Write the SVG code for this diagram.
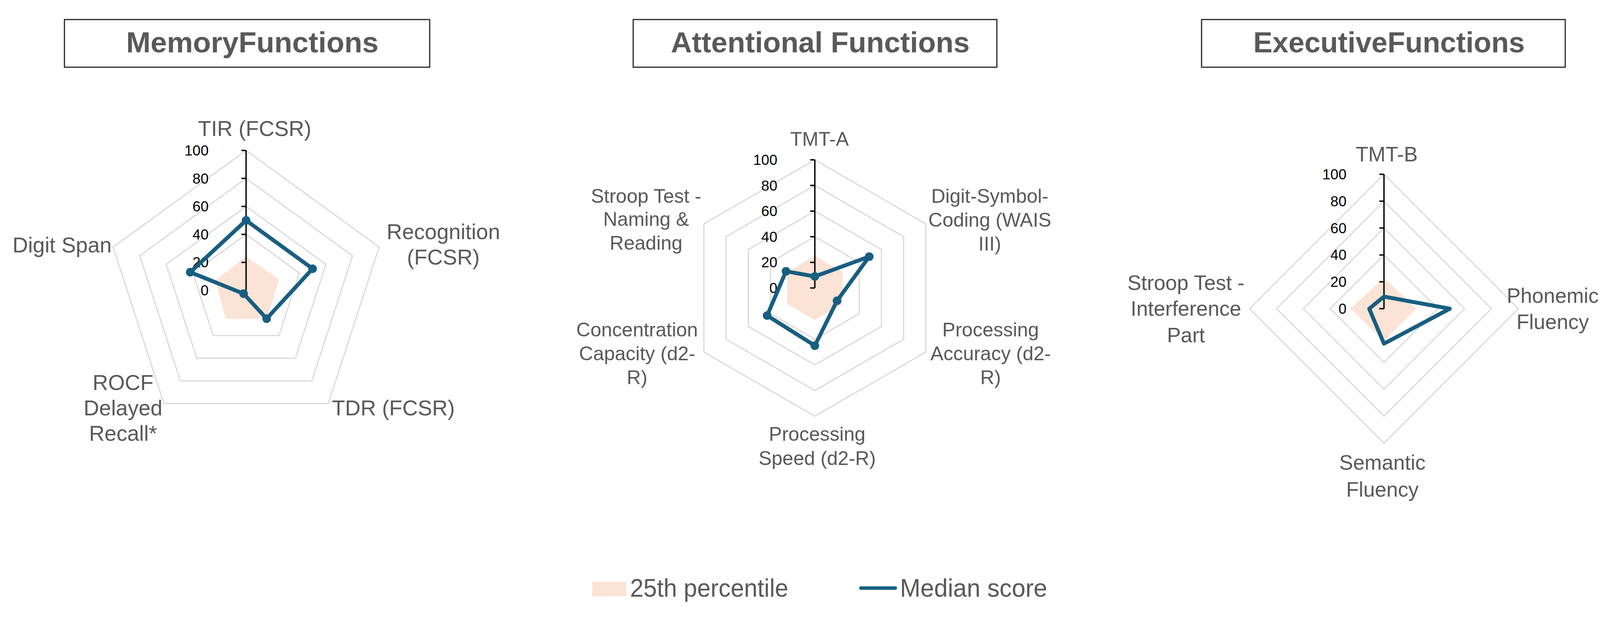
<svg xmlns="http://www.w3.org/2000/svg" width="4164" height="1579" viewBox="0 0 4164 1579">
<style>
.bg{fill:#ffffff}
.box{fill:#ffffff;stroke:#262626;stroke-width:3}
.title{font-family:"Liberation Sans",Arial,sans-serif;font-weight:bold;font-size:74px;fill:#595959;text-anchor:middle}
.grid{fill:none;stroke:#d9d9d9;stroke-width:3;stroke-linejoin:miter}
.p25{fill:#fbe3d5;stroke:none}
.med{fill:none;stroke:#185e81;stroke-width:10;stroke-linejoin:round}
.dot{fill:#185e81}
.axis{stroke:#000000;stroke-width:3.5;fill:none}
.tick{font-family:"Liberation Sans",Arial,sans-serif;font-size:37px;fill:#000000;text-anchor:end}
.lab{font-family:"Liberation Sans",Arial,sans-serif;font-size:55px;fill:#595959;text-anchor:middle}
.lab2{font-family:"Liberation Sans",Arial,sans-serif;font-size:50px;fill:#595959;text-anchor:middle}
.lab3{font-family:"Liberation Sans",Arial,sans-serif;font-size:53px;fill:#595959;text-anchor:middle}
.leg{font-family:"Liberation Sans",Arial,sans-serif;font-size:65px;fill:#595959}
</style>
<rect class="bg" x="0" y="0" width="4164" height="1579"/>

<g id="memory">
  <rect class="box" x="165" y="50" width="935" height="122"/>
  <text class="title" x="646" y="134" textLength="646" lengthAdjust="spacingAndGlyphs">MemoryFunctions</text>
  <g class="gridlines">
    <polygon class="grid" points="630,385 970.48,632.37 840.43,1032.63 419.57,1032.63 289.52,632.37"/>
    <polygon class="grid" points="630,456.6 902.38,654.5 798.34,974.7 461.66,974.7 357.62,654.5"/>
    <polygon class="grid" points="630,528.2 834.29,676.62 756.26,916.78 503.74,916.78 425.71,676.62"/>
    <polygon class="grid" points="630,599.8 766.19,698.75 714.17,858.85 545.83,858.85 493.81,698.75"/>
    <polygon class="grid" points="630,671.4 698.1,720.87 672.09,800.93 587.91,800.93 561.9,720.87"/>
  </g>
  <polygon class="p25" points="630,657.08 715.12,715.34 682.61,815.41 577.39,815.41 551.69,717.56"/>
  <path class="axis" d="M630,743 V385 M618,743 H630 M618,671.4 H630 M618,599.8 H630 M618,528.2 H630 M618,456.6 H630 M618,385 H630"/>
  <g>
    <text class="tick" x="534" y="756">0</text>
    <text class="tick" x="534" y="684.4">20</text>
    <text class="tick" x="534" y="612.8">40</text>
    <text class="tick" x="534" y="541.2">60</text>
    <text class="tick" x="534" y="469.6">80</text>
    <text class="tick" x="534" y="398">100</text>
  </g>
  <polygon class="med" points="630,564 800.24,687.69 682.61,815.41 623.69,751.69 487,696.54"/>
  <g class="dot">
    <circle cx="630" cy="564" r="11"/>
    <circle cx="800.24" cy="687.69" r="11"/>
    <circle cx="682.61" cy="815.41" r="11"/>
    <circle cx="623.69" cy="751.69" r="11"/>
    <circle cx="487" cy="696.54" r="11"/>
  </g>
  <text class="lab" x="652" y="348">TIR (FCSR)</text>
  <text class="lab" x="1135" y="612">Recognition</text>
  <text class="lab" x="1135" y="677">(FCSR)</text>
  <text class="lab" x="1007" y="1063">TDR (FCSR)</text>
  <text class="lab" x="315" y="998">ROCF</text>
  <text class="lab" x="315" y="1063">Delayed</text>
  <text class="lab" x="315" y="1128">Recall*</text>
  <text class="lab" x="159" y="646">Digit Span</text>
</g>

<g id="attentional">
  <rect class="box" x="1621" y="50" width="931" height="122"/>
  <text class="title" x="2100" y="134" textLength="765" lengthAdjust="spacingAndGlyphs">Attentional Functions</text>
  <g class="gridlines">
    <polygon class="grid" points="2086,409 2370.06,573 2370.06,901 2086,1065 1801.94,901 1801.94,573"/>
    <polygon class="grid" points="2086,474.6 2313.25,605.8 2313.25,868.2 2086,999.4 1858.75,868.2 1858.75,605.8"/>
    <polygon class="grid" points="2086,540.2 2256.44,638.6 2256.44,835.4 2086,933.8 1915.56,835.4 1915.56,638.6"/>
    <polygon class="grid" points="2086,605.8 2199.62,671.4 2199.62,802.6 2086,868.2 1972.38,802.6 1972.38,671.4"/>
    <polygon class="grid" points="2086,671.4 2142.81,704.2 2142.81,769.8 2086,802.6 2029.19,769.8 2029.19,704.2"/>
  </g>
  <polygon class="p25" points="2086,655 2157.01,696 2157.01,778 2086,819 2014.99,778 2014.99,696"/>
  <path class="axis" d="M2086,737 V409 M2074,737 H2086 M2074,671.4 H2086 M2074,605.8 H2086 M2074,540.2 H2086 M2074,474.6 H2086 M2074,409 H2086"/>
  <g>
    <text class="tick" x="1990" y="750">0</text>
    <text class="tick" x="1990" y="684.4">20</text>
    <text class="tick" x="1990" y="618.8">40</text>
    <text class="tick" x="1990" y="553.2">60</text>
    <text class="tick" x="1990" y="487.6">80</text>
    <text class="tick" x="1990" y="422">100</text>
  </g>
  <polygon class="med" points="2086,707.48 2225.19,656.64 2142.81,769.8 2086,884.6 1963.86,807.52 2012.15,694.36"/>
  <g class="dot">
    <circle cx="2086" cy="707.48" r="11"/>
    <circle cx="2225.19" cy="656.64" r="11"/>
    <circle cx="2142.81" cy="769.8" r="11"/>
    <circle cx="2086" cy="884.6" r="11"/>
    <circle cx="1963.86" cy="807.52" r="11"/>
    <circle cx="2012.15" cy="694.36" r="11"/>
  </g>
  <text class="lab2" x="2098" y="373">TMT-A</text>
  <text class="lab2" x="2534" y="519">Digit-Symbol-</text>
  <text class="lab2" x="2534" y="580">Coding (WAIS</text>
  <text class="lab2" x="2534" y="641">III)</text>
  <text class="lab2" x="2536" y="861">Processing</text>
  <text class="lab2" x="2536" y="922">Accuracy (d2-</text>
  <text class="lab2" x="2536" y="983">R)</text>
  <text class="lab2" x="2092" y="1128">Processing</text>
  <text class="lab2" x="2092" y="1190">Speed (d2-R)</text>
  <text class="lab2" x="1631" y="861">Concentration</text>
  <text class="lab2" x="1631" y="922">Capacity (d2-</text>
  <text class="lab2" x="1631" y="983">R)</text>
  <text class="lab2" x="1654" y="519">Stroop Test -</text>
  <text class="lab2" x="1654" y="578">Naming &amp;</text>
  <text class="lab2" x="1654" y="639">Reading</text>
</g>

<g id="executive">
  <rect class="box" x="3076" y="50" width="931" height="122"/>
  <text class="title" x="3556" y="134" textLength="695" lengthAdjust="spacingAndGlyphs">ExecutiveFunctions</text>
  <g class="gridlines">
    <polygon class="grid" points="3543,446 3887,790 3543,1134 3199,790"/>
    <polygon class="grid" points="3543,514.8 3818.2,790 3543,1065.2 3267.8,790"/>
    <polygon class="grid" points="3543,583.6 3749.4,790 3543,996.4 3336.6,790"/>
    <polygon class="grid" points="3543,652.4 3680.6,790 3543,927.6 3405.4,790"/>
    <polygon class="grid" points="3543,721.2 3611.8,790 3543,858.8 3474.2,790"/>
  </g>
  <polygon class="p25" points="3543,710.88 3625.56,790 3543,872.56 3457,790"/>
  <path class="axis" d="M3543,790 V446 M3531,790 H3543 M3531,721.2 H3543 M3531,652.4 H3543 M3531,583.6 H3543 M3531,514.8 H3543 M3531,446 H3543"/>
  <g>
    <text class="tick" x="3447" y="803">0</text>
    <text class="tick" x="3447" y="734.2">20</text>
    <text class="tick" x="3447" y="665.4">40</text>
    <text class="tick" x="3447" y="596.6">60</text>
    <text class="tick" x="3447" y="527.8">80</text>
    <text class="tick" x="3447" y="459">100</text>
  </g>
  <polygon class="med" points="3543,759.04 3711.56,790 3543,879.44 3505.16,790"/>
  <text class="lab3" x="3550" y="413">TMT-B</text>
  <text class="lab3" x="3975" y="775">Phonemic</text>
  <text class="lab3" x="3975" y="842">Fluency</text>
  <text class="lab3" x="3539" y="1202">Semantic</text>
  <text class="lab3" x="3539" y="1271">Fluency</text>
  <text class="lab3" x="3036" y="742">Stroop Test -</text>
  <text class="lab3" x="3036" y="808">Interference</text>
  <text class="lab3" x="3036" y="876">Part</text>
</g>

<g id="legend">
  <rect class="p25" x="1516" y="1489" width="87" height="37"/>
  <text class="leg" x="1613" y="1527" textLength="405" lengthAdjust="spacingAndGlyphs">25th percentile</text>
  <line x1="2204" y1="1505" x2="2292" y2="1505" stroke="#185e81" stroke-width="9" stroke-linecap="round"/>
  <text class="leg" x="2304" y="1527" textLength="377" lengthAdjust="spacingAndGlyphs">Median score</text>
</g>
</svg>
